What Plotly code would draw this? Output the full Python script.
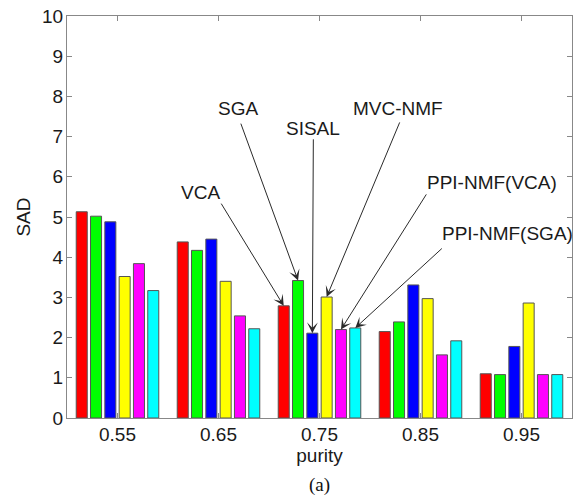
import plotly.graph_objects as go

purity = ["0.55", "0.65", "0.75", "0.85", "0.95"]
methods = ["VCA", "SGA", "SISAL", "MVC-NMF", "PPI-NMF(VCA)", "PPI-NMF(SGA)"]
colors = ["#ff0000", "#00ff00", "#0000ff", "#ffff00", "#ff00ff", "#00ffff"]

vca = [5.13, 4.38, 2.79, 2.15, 1.10]
sga = [5.02, 4.17, 3.42, 2.39, 1.08]
sisal = [4.88, 4.45, 2.11, 3.31, 1.78]
mvc_nmf = [3.52, 3.40, 3.01, 2.97, 2.86]
ppi_vca = [3.84, 2.54, 2.20, 1.57, 1.08]
ppi_sga = [3.17, 2.22, 2.24, 1.92, 1.08]
series = [vca, sga, sisal, mvc_nmf, ppi_vca, ppi_sga]

xpos = list(range(1, len(purity) + 1))

fig = go.Figure()
for name, vals, col in zip(methods, series, colors):
    fig.add_trace(go.Bar(
        x=xpos, y=vals, name=name,
        marker=dict(color=col, line=dict(color="#555555", width=1)),
    ))

bargap = 0.15
nb = len(methods)
slot = (1 - bargap) / nb

# label text positions (data coords) and arrow tail positions
text_pos = [(1.822, 5.62), (2.196, 7.71), (2.939, 7.21), (3.78, 7.69), (4.71, 5.87), (4.86, 4.60)]
tail_pos = [(2.018, 5.37), (2.216, 7.36), (2.939, 6.97), (3.80, 7.39), (4.067, 5.60), (4.226, 4.25)]

annos = []
gi = 2  # purity 0.75 group
for i, name in enumerate(methods):
    tipx = xpos[gi] - (1 - bargap) / 2 + (i + 0.5) * slot
    tipy = series[i][gi]
    annos.append(dict(
        x=tipx, y=tipy, xref="x", yref="y",
        ax=tail_pos[i][0], ay=tail_pos[i][1], axref="x", ayref="y",
        text="", showarrow=True, arrowhead=3, arrowsize=1.8, arrowwidth=1,
        arrowcolor="#2a2a2a", standoff=0,
    ))
    annos.append(dict(
        x=text_pos[i][0], y=text_pos[i][1], xref="x", yref="y",
        text=name, showarrow=False, font=dict(size=19, color="#1a1a1a"),
    ))

annos.append(dict(
    x=0.5, y=-0.166, xref="paper", yref="paper", text="(a)", showarrow=False,
    xanchor="center", yanchor="middle",
    font=dict(family="Liberation Serif, Times New Roman, serif", size=19, color="#111111"),
))

fig.update_layout(
    width=579, height=499,
    margin=dict(l=67, r=7, t=16, b=81),
    paper_bgcolor="white", plot_bgcolor="white",
    barmode="group", bargap=bargap, bargroupgap=0.23,
    showlegend=False,
    font=dict(family="Liberation Sans, Arial, Helvetica, sans-serif", size=19, color="#1a1a1a"),
    xaxis=dict(
        range=[0.5, 5.5], tickvals=xpos, ticktext=purity, automargin=False,
        showline=True, linecolor="#888888", linewidth=1, mirror="ticks",
        ticks="inside", ticklen=5, tickcolor="#888888",
        showgrid=False, zeroline=False, ticklabelstandoff=-1,
        title=dict(text="purity", standoff=0, font=dict(size=19)),
    ),
    yaxis=dict(
        range=[0, 10], tickvals=list(range(0, 11)), automargin=False,
        showline=True, linecolor="#888888", linewidth=1, mirror="ticks",
        ticks="inside", ticklen=5, tickcolor="#888888",
        showgrid=False, zeroline=False, ticklabelstandoff=-1,
        ticklabeloverflow="allow",
        title=dict(text="SAD", standoff=6, font=dict(size=19)),
    ),
    annotations=annos,
)

# remove the default 8px page margin so the figure fills the window exactly
fig.write_html("out.html", config={"displayModeBar": False},
               post_script="document.body.style.margin='0';")
